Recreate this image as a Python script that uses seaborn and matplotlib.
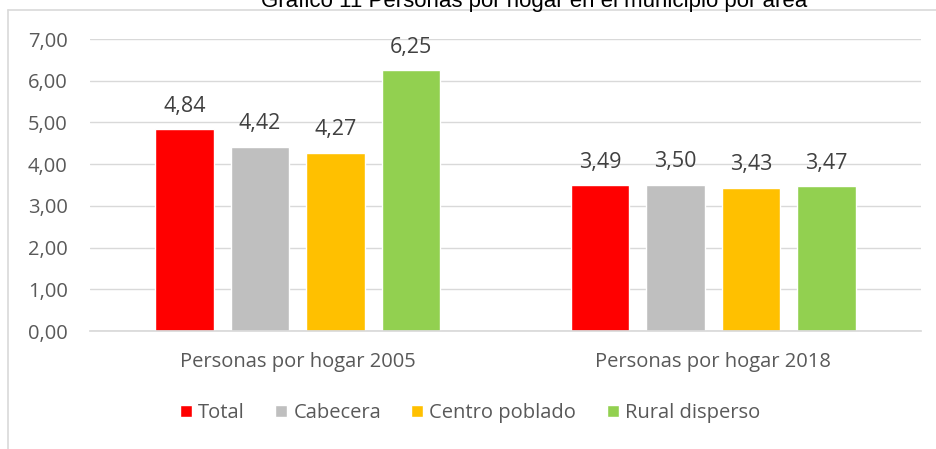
import pandas as pd
import matplotlib
matplotlib.use("Agg")
import matplotlib.pyplot as plt
import seaborn as sns
from matplotlib.lines import Line2D
from matplotlib.ticker import FuncFormatter

# data
categorias = ["Personas por hogar 2005", "Personas por hogar 2018"]
areas = ["Total", "Cabecera", "Centro poblado", "Rural disperso"]
valores_2005 = [4.84, 4.42, 4.27, 6.25]
valores_2018 = [3.49, 3.50, 3.43, 3.47]
colores = ["#ff0000", "#bfbfbf", "#ffc000", "#92d050"]

rows = []
for cat, vals in zip(categorias, [valores_2005, valores_2018]):
    for area, v in zip(areas, vals):
        rows.append({"categoria": cat, "area": area, "valor": v})
df = pd.DataFrame(rows)

sns.set_theme(style="white")
plt.rcParams["font.family"] = ["Open Sans", "DejaVu Sans"]

fig = plt.figure(figsize=(9.37, 4.49), dpi=100)
ax = fig.add_axes([90 / 937, 1 - 331 / 449, 831 / 937, 292 / 449])

sns.barplot(data=df, x="categoria", y="valor", hue="area", hue_order=areas,
            palette=colores, width=0.727, gap=0.225, saturation=1,
            ax=ax, legend=True)

ax.set_ylim(0, 7)
ax.set_yticks(range(0, 8))
ax.yaxis.set_major_formatter(FuncFormatter(lambda v, p: f"{v:.2f}".replace(".", ",")))
ax.grid(axis="y", color="#d9d9d9", linewidth=1)
ax.set_axisbelow(True)
for s in ["left", "right", "top"]:
    ax.spines[s].set_visible(False)
ax.spines["bottom"].set_color("#d9d9d9")
ax.tick_params(axis="both", length=0, labelsize=14.5, colors="#595959")
ax.tick_params(axis="y", pad=16)
ax.tick_params(axis="x", pad=15)
ax.set_xlabel("")
ax.set_ylabel("")

for cont in ax.containers:
    ax.bar_label(cont, labels=[f"{v:.2f}".replace(".", ",") for v in cont.datavalues],
                 padding=9, fontsize=15.5, color="#404040")

handles, labels = ax.get_legend_handles_labels()
ax.legend_.remove()
fig.legend(handles, labels, loc="center", bbox_to_anchor=(470 / 937, 1 - 413 / 449),
           ncol=4, frameon=False, fontsize=14.5, handlelength=0.6, handleheight=0.6,
           handletextpad=0.3, columnspacing=1.5, labelcolor="#595959")

# chart frame (cropped in the reference)
fig.add_artist(Line2D([8 / 937, 1], [1 - 10 / 449, 1 - 10 / 449], color="#d9d9d9", lw=1.2))
fig.add_artist(Line2D([8 / 937, 8 / 937], [0, 1 - 10 / 449], color="#d9d9d9", lw=1.2))

# title, cut off at the top edge as in the reference
fig.text(534 / 937, 1 - 7 / 449, "Gráfico 11 Personas por hogar en el municipio por área",
         ha="center", va="baseline", fontsize=16, color="black",
         family=["Liberation Sans", "DejaVu Sans"])

fig.savefig("out.png", dpi=100)
